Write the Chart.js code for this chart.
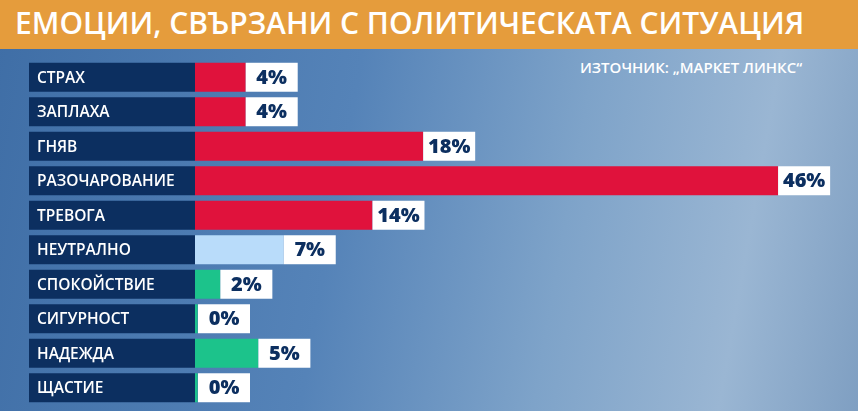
<!DOCTYPE html>
<html><head><meta charset="utf-8">
<script src="https://cdn.jsdelivr.net/npm/chart.js@4"></script>
<style>
html,body{margin:0;padding:0;}
body{width:858px;height:411px;overflow:hidden;position:relative;
background:linear-gradient(100deg,#3f6ea6 0%,#5583b8 40%,#7ea3c9 65%,#9ab6d3 85%,#7f9fc2 100%);}
#title{position:absolute;left:0;top:0;width:858px;height:49px;background:#e59c3c;color:#fff;
font:600 30px "Open Sans",sans-serif;line-height:46px;padding-left:15px;box-sizing:border-box;white-space:nowrap;}
#src{position:absolute;left:580px;top:57px;color:#fff;font:600 15px "Open Sans",sans-serif;}
canvas{position:absolute;left:0;top:0;}
</style></head><body>
<div id="title">ЕМОЦИИ, СВЪРЗАНИ С ПОЛИТИЧЕСКАТА СИТУАЦИЯ</div>
<div id="src">ИЗТОЧНИК: „МАРКЕТ ЛИНКС“</div>
<canvas id="c" width="858" height="411"></canvas>
<script>
var categories = ['СТРАХ','ЗАПЛАХА','ГНЯВ','РАЗОЧАРОВАНИЕ','ТРЕВОГА','НЕУТРАЛНО','СПОКОЙСТВИЕ','СИГУРНОСТ','НАДЕЖДА','ЩАСТИЕ'];
var values = [4, 4, 18, 46, 14, 7, 2, 0, 5, 0];
var barColors = ['#e0123c','#e0123c','#e0123c','#e0123c','#e0123c','#b9dcfa','#1cc38b','#1cc38b','#1cc38b','#1cc38b'];

var boxes = {
  id: 'boxes',
  afterDatasetsDraw: function (chart) {
    var ctx = chart.ctx;
    var meta = chart.getDatasetMeta(0);
    meta.data.forEach(function (bar, i) {
      var h = bar.height;
      var top = bar.y - h / 2;
      // label box
      ctx.fillStyle = '#0c2f60';
      ctx.fillRect(29, top, 166, h);
      ctx.fillStyle = '#ffffff';
      ctx.font = '600 15.5px "Open Sans", sans-serif';
      ctx.textBaseline = 'middle';
      ctx.textAlign = 'left';
      ctx.fillText(categories[i], 37, bar.y + 1);
      // value box
      var x = Math.max(bar.x, bar.base + 3);
      ctx.fillStyle = '#ffffff';
      ctx.fillRect(x, top, 52, h);
      ctx.fillStyle = '#0c2f60';
      ctx.font = '800 20px "Open Sans", sans-serif';
      ctx.textAlign = 'center';
      ctx.fillText(values[i] + '%', x + 26, bar.y + 1);
    });
  }
};

new Chart(document.getElementById('c'), {
  type: 'bar',
  data: {
    labels: categories,
    datasets: [{
      data: values.map(function (v) { return v === 0 ? 0.2 : v; }),
      backgroundColor: barColors,
      borderWidth: 0,
      barPercentage: 0.84,
      categoryPercentage: 1
    }]
  },
  options: {
    indexAxis: 'y',
    responsive: false,
    animation: false,
    layout: { padding: { left: 195, top: 60, bottom: 6, right: 0 } },
    plugins: { legend: { display: false }, tooltip: { enabled: false } },
    scales: {
      x: { display: false, min: 0, max: 52.3 },
      y: { display: false }
    }
  },
  plugins: [boxes]
});
</script>
</body></html>
